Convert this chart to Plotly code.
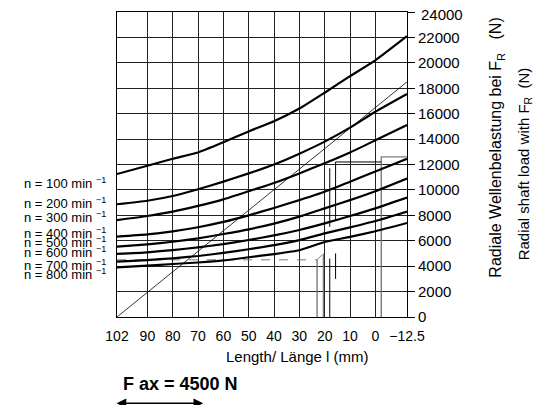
import plotly.graph_objects as go

# ---- data ----
length_mm = [102, 90, 80, 70, 60, 50, 40, 30, 20, 10, 0, -12.5]
length_mm_n100 = [102, 90, 80, 70, 60, 50, 40, 30, 20, 10, 0, -3, -12.5]

speeds = ["100", "200", "300", "400", "500", "600", "700", "800"]

load_n100 = [11250, 11900, 12450, 12950, 13750, 14600, 15400, 16400, 17650, 18950, 20200, 20650, 22100]
load_n200 = [8870, 9150, 9520, 10050, 10650, 11300, 12000, 12850, 13800, 14900, 16150, 17550]
load_n300 = [7630, 7950, 8290, 8740, 9260, 9900, 10550, 11300, 12100, 12950, 13900, 15100]
load_n400 = [6320, 6500, 6740, 7060, 7480, 8000, 8580, 9200, 9860, 10650, 11450, 12450]
load_n500 = [5530, 5720, 5920, 6190, 6530, 6900, 7350, 7900, 8550, 9200, 9900, 10900]
load_n600 = [4960, 5090, 5270, 5480, 5740, 6060, 6420, 6850, 7370, 7950, 8550, 9400]
load_n700 = [4350, 4480, 4620, 4800, 5040, 5330, 5650, 6050, 6580, 7050, 7550, 8300]
load_n800 = [3910, 4040, 4170, 4290, 4450, 4700, 4950, 5250, 5900, 6300, 6750, 7400]

curves = [(length_mm_n100, load_n100), (length_mm, load_n200), (length_mm, load_n300),
          (length_mm, load_n400), (length_mm, load_n500), (length_mm, load_n600),
          (length_mm, load_n700), (length_mm, load_n800)]

# thin reference diagonal
diag_x = [102, -12.5]
diag_y = [0, 18500]

# faint scan lines (overprint remnants)
scan_dash_x = [102, 23, 20.5, 19]
scan_dash_y = [4500, 4500, 5000, 5000]
scan_grey_x = [23, 23, None, 20.5, 20.5, None, -2.35, -2.35, -12.5]
scan_grey_y = [0, 4500, None, 0, 5000, None, 0, 12600, 12600]
scan_thin_x = [18, 18, None, 18, 18, None, 15.7, 15.7, None, 15.7, 15.7, -2.35]
scan_thin_y = [0, 4600, None, 7100, 11700, None, 3000, 5000, None, 7600, 12200, 12200]

x_ticks = [102, 90, 80, 70, 60, 50, 40, 30, 20, 10, 0, -12.5]
x_ticktext = ["102", "90", "80", "70", "60", "50", "40", "30", "20", "10", "0", "\u221212.5"]
y_ticks = list(range(0, 24001, 2000))
y_ticktext = [str(v) for v in y_ticks[:-1]] + [""]   # top label drawn as annotation
y_top = y_ticks[-1]

# label anchor heights (N) for the speed labels on the left
label_y = [10540, 8970, 7870, 6610, 5900, 5110, 4090, 3380]

FONT = "Liberation Sans, Arial, sans-serif"

fig = go.Figure()

grey = "rgba(110,110,110,0.9)"
fig.add_trace(go.Scatter(x=scan_dash_x, y=scan_dash_y, mode="lines",
                         line=dict(color=grey, width=1, dash="dash"), hoverinfo="skip"))
fig.add_trace(go.Scatter(x=scan_grey_x, y=scan_grey_y, mode="lines",
                         line=dict(color=grey, width=1.4), hoverinfo="skip"))
fig.add_trace(go.Scatter(x=scan_thin_x, y=scan_thin_y, mode="lines",
                         line=dict(color="black", width=1), hoverinfo="skip"))

fig.add_trace(go.Scatter(x=diag_x, y=diag_y, mode="lines",
                         line=dict(color="black", width=0.8), hoverinfo="skip"))

for xs, ys in curves:
    fig.add_trace(go.Scatter(x=xs, y=ys, mode="lines",
                             line=dict(color="black", width=2.2, shape="spline", smoothing=0.5),
                             hoverinfo="skip"))

annotations = []
for sp, ly in zip(speeds, label_y):
    annotations.append(dict(
        text=f"n = {sp} min <sup>\u22121</sup>", xref="paper", yref="y",
        x=-0.03, y=ly, xanchor="right", yanchor="middle", showarrow=False,
        font=dict(family=FONT, size=13, color="black")))

annotations += [
    dict(text=str(y_top), xref="paper", yref="y", x=1.0, xshift=12, y=y_top, yshift=-2,
         xanchor="left", yanchor="middle", showarrow=False,
         font=dict(family=FONT, size=15, color="black")),
    dict(text="Length/ L\u00e4nge l (mm)", xref="paper", yref="paper",
         x=0.621, y=-0.128, xanchor="center", yanchor="middle", showarrow=False,
         font=dict(family=FONT, size=15, color="black")),
    dict(text="<b>F ax = 4500 N</b>", xref="paper", yref="paper",
         x=0.22, y=-0.22, xanchor="center", yanchor="middle", showarrow=False,
         font=dict(family=FONT, size=18, color="black")),
    dict(text="Radiale Wellenbelastung bei F<sub>R</sub>\u00a0\u00a0\u00a0(N)", xref="paper", yref="paper",
         x=1.31, y=0.555, xanchor="center", yanchor="middle", textangle=-90, showarrow=False,
         font=dict(family=FONT, size=16, color="black")),
    dict(text="Radial shaft load with F<sub>R</sub>\u00a0\u00a0(N)", xref="paper", yref="paper",
         x=1.405, y=0.502, xanchor="center", yanchor="middle", textangle=-90, showarrow=False,
         font=dict(family=FONT, size=15, color="black")),
    dict(text="", xref="paper", yref="paper", x=0.297, y=-0.283,
         ax=-88, ay=0, showarrow=True, arrowhead=2, arrowside="end+start",
         arrowsize=1.2, arrowwidth=1.6, arrowcolor="black"),
]

# the page body adds an 8 px offset, so the figure is sized to fit the window
fig.update_layout(
    width=533, height=397,
    margin=dict(l=109, r=134, t=4, b=88),
    paper_bgcolor="white", plot_bgcolor="white",
    showlegend=False,
    font=dict(family=FONT, size=14, color="black"),
    annotations=annotations,
)

fig.update_xaxes(
    range=[102, -12.5], tickvals=x_ticks, ticktext=x_ticktext,
    showgrid=True, gridcolor="#222222", gridwidth=1,
    showline=True, linecolor="black", linewidth=1, mirror=True,
    ticks="", ticklabelstandoff=6, zeroline=False, automargin=False,
    tickfont=dict(family=FONT, size=14, color="black"),
)
fig.update_yaxes(
    range=[0, 24000], tickvals=y_ticks, ticktext=y_ticktext, side="right",
    showgrid=True, gridcolor="#222222", gridwidth=1,
    showline=True, linecolor="black", linewidth=1, mirror=True,
    ticks="outside", ticklen=7, tickcolor="black", zeroline=False, automargin=False,
    tickfont=dict(family=FONT, size=15, color="black"),
)

fig.write_html("out.html")
